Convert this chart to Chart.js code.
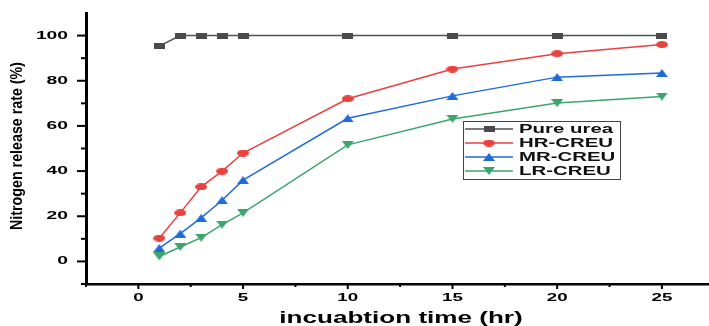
<!DOCTYPE html>
<html>
<head>
<meta charset="utf-8">
<script src="https://cdn.jsdelivr.net/npm/chart.js@4/dist/chart.umd.min.js"></script>
<style>
  html, body { margin: 0; padding: 0; background: #fff; }
  #wrap { width: 709px; height: 326px; }
</style>
</head>
<body>
<div id="wrap"><canvas id="c" width="709" height="326"></canvas></div>
<script>
// data
const times = [1, 2, 3, 4, 5, 10, 15, 20, 25];
const pureUrea = [95.3, 100, 100, 100, 100, 100, 100, 100, 100];
const hrCreu = [10.3, 21.5, 33, 40, 48, 72, 85.2, 92, 96];
const mrCreu = [5.9, 12.3, 19.3, 27.1, 36, 63.4, 73.3, 81.6, 83.4];
const lrCreu = [2.2, 6.4, 10.5, 16.3, 21.5, 51.6, 63.1, 70.1, 73];
const seriesNames = ['Pure urea', 'HR-CREU', 'MR-CREU', 'LR-CREU'];
const xTickLabels = [0, 5, 10, 15, 20, 25];
const xMinorTicks = [-2.5, 2.5, 7.5, 12.5, 17.5, 22.5];
const yTickLabels = [0, 20, 40, 60, 80, 100];
const yMinorTicks = [-10, 10, 30, 50, 70, 90];
const xTitle = 'incuabtion time (hr)';
const yTitle = 'Nitrogen release rate (%)';

// the source image is stretched sideways, so markers are wide
function makeMarker(shape, color, w, h) {
  const cv = document.createElement('canvas');
  cv.width = w; cv.height = h;
  const g = cv.getContext('2d');
  g.fillStyle = color;
  g.beginPath();
  if (shape === 'square') {
    g.rect(0, 0, w, h);
  } else if (shape === 'circle') {
    g.ellipse(w / 2, h / 2, w / 2, h / 2, 0, 0, Math.PI * 2);
  } else if (shape === 'up') {
    g.moveTo(w / 2, 0); g.lineTo(w, h); g.lineTo(0, h); g.closePath();
  } else {
    g.moveTo(0, 0); g.lineTo(w, 0); g.lineTo(w / 2, h); g.closePath();
  }
  g.fill();
  return cv;
}

const colors = ['#505050', '#e8413e', '#1f6adf', '#3aa66a'];
const markers = [
  makeMarker('square', '#4a4a4a', 11, 6),
  makeMarker('circle', colors[1], 12, 7),
  makeMarker('up', colors[2], 12, 8),
  makeMarker('down', colors[3], 12, 8)
];
const series = [pureUrea, hrCreu, mrCreu, lrCreu];

function drawWide(ctx, text, x, y, sx, align) {
  ctx.save();
  ctx.translate(x, y);
  ctx.scale(sx, 1);
  ctx.textAlign = align;
  ctx.textBaseline = 'middle';
  ctx.fillText(text, 0, 0);
  ctx.restore();
}

const axisDecor = {
  id: 'axisDecor',
  afterDraw(chart) {
    const ctx = chart.ctx;
    const xs = chart.scales.x, ys = chart.scales.y;
    const area = chart.chartArea;
    ctx.save();
    ctx.strokeStyle = '#000';
    ctx.fillStyle = '#000';
    ctx.lineWidth = 2;
    // y ticks
    yTickLabels.forEach(v => {
      const p = ys.getPixelForValue(v);
      ctx.beginPath(); ctx.moveTo(area.left - 9, p); ctx.lineTo(area.left, p); ctx.stroke();
    });
    yMinorTicks.forEach(v => {
      const p = ys.getPixelForValue(v);
      ctx.beginPath(); ctx.moveTo(area.left - 5, p); ctx.lineTo(area.left, p); ctx.stroke();
    });
    // x ticks
    xTickLabels.forEach(v => {
      const p = xs.getPixelForValue(v);
      ctx.beginPath(); ctx.moveTo(p, area.bottom); ctx.lineTo(p, area.bottom + 5); ctx.stroke();
    });
    xMinorTicks.forEach(v => {
      const p = xs.getPixelForValue(v);
      ctx.beginPath(); ctx.moveTo(p, area.bottom); ctx.lineTo(p, area.bottom + 3); ctx.stroke();
    });
    // tick labels
    ctx.font = 'bold 11px "Liberation Sans", Arial, sans-serif';
    yTickLabels.forEach(v => drawWide(ctx, String(v), area.left - 18, ys.getPixelForValue(v), 1.75, 'right'));
    xTickLabels.forEach(v => drawWide(ctx, String(v), xs.getPixelForValue(v), 297.5, 1.7, 'center'));
    // axis titles
    ctx.font = 'bold 16px "Liberation Sans", Arial, sans-serif';
    drawWide(ctx, xTitle, 401, 319, 1.63, 'center');
    ctx.save();
    ctx.translate(18, 146);
    ctx.rotate(-Math.PI / 2);
    ctx.font = 'bold 16px "Liberation Sans", Arial, sans-serif';
    ctx.textAlign = 'center';
    ctx.textBaseline = 'middle';
    ctx.fillText(yTitle, 0, 0, 168);
    ctx.restore();

    // legend
    const lx = 463, ly = 121, lw = 157, lh = 58;
    ctx.fillStyle = '#fff';
    ctx.fillRect(lx, ly, lw, lh);
    ctx.strokeStyle = '#444';
    ctx.lineWidth = 1;
    ctx.strokeRect(lx + 0.5, ly + 0.5, lw, lh);
    const rows = [129, 143, 157, 171];
    ctx.font = 'bold 12px "Liberation Sans", Arial, sans-serif';
    seriesNames.forEach((name, i) => {
      const y = rows[i];
      ctx.strokeStyle = colors[i];
      ctx.lineWidth = 1.5;
      ctx.beginPath(); ctx.moveTo(465, y); ctx.lineTo(513, y); ctx.stroke();
      const m = markers[i];
      ctx.drawImage(m, 489 - m.width / 2, y - m.height / 2);
      ctx.fillStyle = '#111';
      drawWide(ctx, name, 519, y + 0.5, 1.7, 'left');
    });
    ctx.restore();
  }
};

new Chart(document.getElementById('c'), {
  type: 'line',
  data: {
    labels: times,
    datasets: seriesNames.map((name, i) => ({
      label: name,
      data: times.map((t, j) => ({ x: t, y: series[i][j] })),
      borderColor: colors[i],
      backgroundColor: colors[i],
      borderWidth: 1.5,
      pointStyle: markers[i],
      pointRadius: 5,
      pointHoverRadius: 5,
      tension: 0,
      fill: false,
      clip: false
    }))
  },
  options: {
    responsive: false,
    devicePixelRatio: 1,
    animation: false,
    layout: { autoPadding: false, padding: { left: 0, right: 0, top: 13, bottom: 0 } },
    plugins: { legend: { display: false }, tooltip: { enabled: false } },
    scales: {
      x: {
        type: 'linear',
        min: -2.5,
        max: 27.25,
        grid: { display: true, drawOnChartArea: false, drawTicks: false },
        border: { display: true, color: '#000', width: 2.5 },
        ticks: { display: false },
        afterFit(s) { s.height = 42; }
      },
      y: {
        min: -10,
        max: 110,
        grid: { display: true, drawOnChartArea: false, drawTicks: false },
        border: { display: true, color: '#000', width: 3 },
        ticks: { display: false },
        afterFit(s) { s.width = 86; }
      }
    }
  },
  plugins: [axisDecor]
});
</script>
</body>
</html>
